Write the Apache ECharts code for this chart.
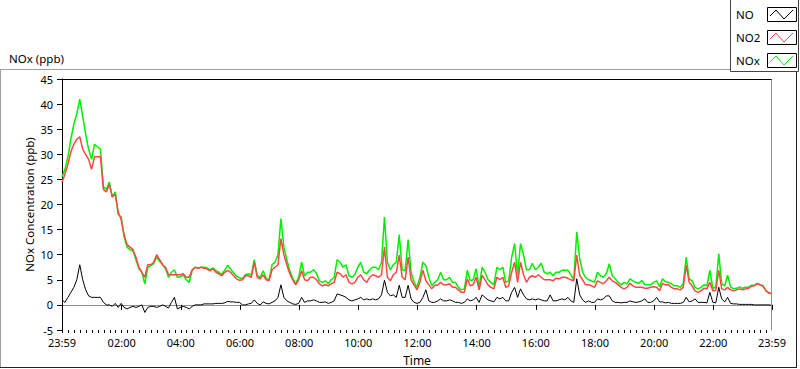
<!DOCTYPE html>
<html><head><meta charset="utf-8">
<script src="https://cdn.jsdelivr.net/npm/echarts@6/dist/echarts.min.js"></script>
<style>html,body{margin:0;padding:0;background:#fff}#c{width:800px;height:369px}</style>
</head><body><div id="c"></div>
<script>
// Sample spacing of the readings (minutes after 23:59)
const stepMinutes = 6;

// NO (ppb)
const noValues = [
1.0,0.5,1.5,2.5,3.5,5,8,5,3,1.8,1.5,1.5,1.5,1.5,0.5,0,0,-0.3,0.3,-0.5,
0.3,-0.5,-0.8,-0.5,-0.3,-0.5,-0.3,0,-1.5,-0.5,-0.3,-0.3,-0.5,-0.3,0,-0.3,-0.6,0.5,1.5,-0.8,
-0.5,-0.3,-0.5,-0.8,-0.3,0,0,0,0.2,0.2,0.2,0.2,0.3,0.3,0.3,0.4,0.7,0.6,0.6,0.5,
0.5,0.0,0.0,0.2,0.3,1.0,0.3,0.0,0.6,0.3,0.2,0.5,0.8,1.5,4.0,1.5,0.8,0.5,0.2,0.1,
0.3,1.5,0.5,0.8,0.8,1.0,0.8,0.5,0.5,0.6,0.3,0.5,0.8,2.2,2.0,1.8,1.5,1.0,0.8,1.0,
1.2,1.5,1.0,1.2,1.0,1.2,1.0,1.2,2.0,4.9,2.5,1.8,2.0,1.5,3.9,1.5,1.5,3.9,1.2,0.5,
0.3,0.5,1.5,3.0,0.8,0.5,0.5,0.8,1.2,0.8,0.8,1.0,0.8,0.5,0.5,0.3,0.5,1.2,0.8,1.0,
1.5,0.5,2.0,1.5,1.0,0.8,0.6,1.5,1.2,1.5,0.8,0.8,2.5,3.5,1.5,3.2,2.0,1.2,1.0,1.2,
1.0,1.2,1.0,0.8,0.8,2.0,0.8,0.8,1.0,1.2,1.0,1.5,0.8,0.5,5.2,2.0,1.0,0.5,0.8,0.5,
0.5,1.2,1.0,1.2,1.8,1.8,0.8,0.5,0.5,0.4,0.5,0.5,0.8,0.6,0.5,0.6,0.8,1.2,0.5,0.5,
0.8,1.5,0.6,0.6,0.4,0.5,0.3,0.3,0.3,0.3,0.5,1.5,0.6,0.8,1.2,0.5,0.5,0.5,0.4,2.5,
0.5,0.4,3.5,1.2,0.6,1.5,0.3,0.2,0.2,0.1,0.1,0.1,0.1,0.1,0.0,0.0,0.0,0.0,0.0,0.0,
-0.1
];

// NO2 (ppb)
const no2Values = [
24.5,26,28,30.5,32,33,33.5,31,30,29,27,29.5,29.5,29.5,23,22.5,24,21.5,22,18.5,
17,14,12,11.5,11,9.5,7.5,6.5,5.5,8,8,8.5,10,9,8,7.5,6,6,6,6,
6,6.2,5.5,5.5,7,7.5,7.3,7.5,7.3,7.2,6.8,7.2,6.5,6.2,5.8,6.5,6.9,6.5,5.8,5.2,
4.9,5.0,5.8,5.8,5.5,8.5,5.5,5.2,6.0,5.0,4.8,7.0,7.5,8.0,13.2,10,8.0,6.2,5.0,4.0,
5.0,6.8,5.0,4.8,5.5,5.5,5.0,4.2,3.8,4.0,3.8,4.2,4.5,6.5,6.2,5.5,6.0,4.5,4.2,4.5,
5.5,6.0,5.0,4.5,5.5,6.0,5.8,5.5,6.0,11.5,5.5,4.8,6.0,6.5,9.9,5.5,5.0,9.5,5.0,4.0,
3.0,4.5,6.9,4.8,4.0,3.2,3.9,3.9,4.5,4.0,4.0,4.2,3.5,3.5,3.0,2.5,2.5,5.2,3.8,4.0,
5.5,3.0,5.9,5.0,4.0,3.5,3.2,5.5,5.0,5.5,3.5,3.8,6.5,8.5,4.5,8.5,6.0,4.5,5.5,5.8,
5.5,6.0,5.5,5.0,5.0,5.0,4.8,5.3,5.2,5.5,5.5,5.3,5.0,4.8,9.9,5.9,5.0,4.0,4.0,3.8,
3.5,4.8,4.5,4.2,4.8,5.5,4.8,4.5,4.0,3.5,3.2,3.5,4.3,3.8,3.5,3.5,3.5,3.3,3.3,3.5,
3.6,3.5,2.8,4.3,4.0,4.0,3.5,3.2,3.2,3.0,3.5,7.9,4.5,3.8,2.8,2.5,2.8,3.3,3.2,4.5,
2.8,2.9,6.9,3.2,3.0,3.5,3.0,2.8,3.0,3.2,3.0,3.2,3.3,3.7,3.8,4.2,4.0,3.7,2.8,2.4,
2.3
];

// NOx (ppb)
const noxValues = [
25.5,27,29.5,33,36,38,41,37.5,34,31,29,32,31.5,31,23.5,23,24.5,21.5,22.5,18,
17.5,13.5,11.5,11,10.8,9,7.2,6.5,4.2,7.5,7.8,8.2,9.5,8.7,8,7.2,5.5,6.5,7,5.5,
5.6,6,5,4.5,6.8,7.5,7.3,7.5,7.5,7.4,7,7.4,6.8,6.5,6.1,6.9,7.9,7.1,6.4,5.7,
5.4,5.2,6.0,6.2,6.0,9.0,5.8,5.5,6.8,5.3,5.0,8.0,8.5,10.0,17.2,11.5,9.0,6.8,5.3,4.2,
5.5,8.5,5.8,6.5,6.5,7.0,6.3,4.8,4.5,4.8,4.2,5.0,5.5,9.0,8.5,7.5,8.0,5.8,5.5,6.0,
7.5,8.5,6.5,6.2,7.0,7.5,7.5,7.0,8.5,17.5,8.5,7.0,8.0,8.5,14.0,7.0,6.8,13.0,6.5,4.5,
3.5,5.5,8.5,7.8,5.5,3.8,4.5,5.0,6.5,5.0,5.0,5.5,4.5,4.5,3.5,3.0,3.2,6.9,4.8,5.0,
7.2,3.5,7.5,6.5,5.0,4.5,4.0,7.5,7.0,7.5,4.5,4.8,9.5,12.2,6.0,12.2,10.0,7.0,7.0,8.3,
7.0,7.5,8.3,6.5,6.2,6.5,5.8,6.5,6.5,6.9,6.9,6.9,6.0,5.0,14.5,9.2,6.5,5.5,5.0,4.8,
4.5,6.5,5.8,5.5,6.2,8.2,5.8,5.2,4.5,4.0,4.5,4.2,5.2,4.8,4.5,4.3,4.9,4.0,4.0,4.0,
4.5,4.8,3.6,5.2,4.6,4.5,4.2,3.8,3.8,3.5,4.2,9.5,5.2,4.8,3.5,3.2,3.5,4.0,3.8,6.9,
3.3,3.5,10.2,4.2,3.8,5.9,3.6,3.2,3.3,3.6,3.3,3.5,3.5,3.9,3.9,4.3,4.0,3.8,2.8,2.3,
2.2
];

const seriesNames = ['NO', 'NO2', 'NOx'];
const xTickLabels = ['23:59','02:00','04:00','06:00','08:00','10:00','12:00','14:00','16:00','18:00','20:00','22:00','23:59'];
const xTickMinutes = [0,121,241,361,481,601,721,841,961,1081,1201,1321,1440];
const yTicks = [-5,0,5,10,15,20,25,30,35,40,45];

const colors = {NO:'#000000', NO2:'#ff4646', NOx:'#00f000'};
const FONT = 'Noto Sans';

function toPairs(arr){ return arr.map((v,i)=>[i*stepMinutes, v]); }
const minorTicks = [];
for (let m = 1; m <= 1440; m += 12) minorTicks.push(m);

const chart = echarts.init(document.getElementById('c'), null, {renderer:'svg'});

// legend drawn as LabVIEW-style boxes
const legendG = [];
legendG.push({type:'rect', shape:{x:730.5,y:-1,width:68,height:72.5}, style:{fill:'#fff', stroke:'#444', lineWidth:1}, z:10});
seriesNames.forEach((n,k)=>{
  const y0 = 7 + k*23;
  legendG.push({type:'text', x:736, y:y0+7, style:{text:n, fill:'#000', font:'11.5px "'+FONT+'"', verticalAlign:'middle'}, z:11});
  legendG.push({type:'rect', shape:{x:767.5,y:y0+0.5,width:29,height:14}, style:{fill:'#fff', stroke:'#000', lineWidth:1}, z:11});
  legendG.push({type:'polyline', shape:{points:[[770,y0+9],[776,y0+3],[784,y0+12],[793,y0+3]]}, style:{stroke:colors[n], lineWidth:1, fill:null}, z:12});
});

const frame = [
  {type:'line', shape:{x1:0,y1:69.5,x2:731,y2:69.5}, style:{stroke:'#a0a0a0',lineWidth:1}},
  {type:'line', shape:{x1:0.5,y1:69.5,x2:0.5,y2:368}, style:{stroke:'#a0a0a0',lineWidth:1}},
  {type:'line', shape:{x1:0,y1:367.5,x2:797,y2:367.5}, style:{stroke:'#222',lineWidth:1}},
  {type:'line', shape:{x1:796.5,y1:71,x2:796.5,y2:368}, style:{stroke:'#222',lineWidth:1}},
  {type:'line', shape:{x1:62,y1:79.5,x2:772,y2:79.5}, style:{stroke:'#000',lineWidth:1}, z:5},
  {type:'line', shape:{x1:771.5,y1:79.5,x2:771.5,y2:330.5}, style:{stroke:'#909090',lineWidth:1}, z:5}
];

chart.setOption({
  animation:false,
  backgroundColor:'#fff',
  textStyle:{fontFamily:FONT},
  title:{text:'NOx (ppb)', left:4, top:47, textStyle:{fontSize:11.5, fontWeight:'normal', color:'#000', fontFamily:FONT}},
  legend:{show:false, data:seriesNames},
  grid:{left:62, right:28, top:79, bottom:39, outerBoundsMode:'none', containLabel:false},
  xAxis:[{
    type:'value', min:0, max:1440,
    name:'Time', nameLocation:'middle', nameGap:24, nameMoveOverlap:false,
    nameTextStyle:{fontSize:12, color:'#000', fontFamily:FONT},
    axisLine:{show:true, lineStyle:{color:'#909090'}},
    axisTick:{show:true, length:5, lineStyle:{color:'#000'}, customValues:xTickMinutes},
    axisLabel:{fontSize:11, color:'#000', margin:7, customValues:xTickMinutes,
      formatter:(v)=>{const k=xTickMinutes.indexOf(Math.round(v)); return k>=0?xTickLabels[k]:'';}},
    splitLine:{show:false}
  },{
    type:'value', min:0, max:1440, position:'bottom',
    axisLine:{show:false},
    axisTick:{show:true, length:3, lineStyle:{color:'#000'}, customValues:minorTicks},
    axisLabel:{show:false},
    splitLine:{show:false}
  }],
  yAxis:{
    type:'value', min:-5, max:45, interval:5,
    name:'NOx Concentration (ppb)', nameLocation:'middle', nameGap:27, nameRotate:90, nameMoveOverlap:false,
    nameTextStyle:{fontSize:11.5, color:'#000', fontFamily:FONT},
    axisLine:{show:true, lineStyle:{color:'#000'}},
    axisTick:{show:true, length:5, lineStyle:{color:'#000'}},
    axisLabel:{fontSize:11, color:'#000', margin:9},
    splitLine:{show:false}
  },
  series:[
    {name:'NOx', type:'line', data:toPairs(noxValues), showSymbol:false, lineStyle:{color:colors.NOx,width:1.5}, itemStyle:{color:colors.NOx}, z:2},
    {name:'NO2', type:'line', data:toPairs(no2Values), showSymbol:false, lineStyle:{color:colors.NO2,width:1.5}, itemStyle:{color:colors.NO2}, z:3},
    {name:'NO', type:'line', data:toPairs(noValues), showSymbol:false, lineStyle:{color:colors.NO,width:1}, itemStyle:{color:colors.NO}, z:4}
  ],
  graphic: frame.concat(legendG)
});
</script></body></html>
